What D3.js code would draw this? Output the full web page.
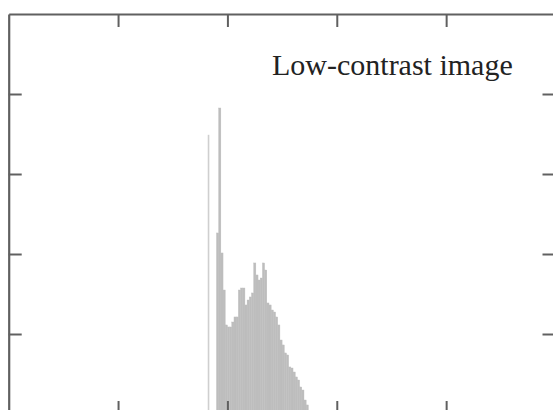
<!DOCTYPE html>
<html>
<head>
<meta charset="utf-8">
<script src="https://cdn.jsdelivr.net/npm/d3@7"></script>
<style>
  body { margin: 0; background: #fff; }
  svg { display: block; }
</style>
</head>
<body>
<script>
// grey level bins (0..255) and pixel counts
var levels = [91, 95, 96, 97, 98, 99, 100, 101, 102, 103, 104, 105, 106, 107, 108,
    109, 110, 111, 112, 113, 114, 115, 116, 117, 118, 119, 120, 121, 122, 123,
    124, 125, 126, 127, 128, 129, 130, 131, 132, 133, 134, 135, 136];
var counts = [3490, 2263, 3825, 2013, 1550, 1113, 1088, 1088, 1150, 1213, 1213, 1550,
    1575, 1575, 1363, 1425, 1463, 1513, 1888, 1738, 1675, 1700, 1888, 1800, 1388,
    1363, 1300, 1275, 1213, 1113, 925, 863, 763, 738, 588, 575, 525, 463, 425,
    338, 300, 175, 113];
var xTicks = [50, 100, 150, 200];
var yTicks = [1000, 2000, 3000, 4000];
var title = "Low-contrast image";

var width = 553, height = 410;
var svg = d3.select("body").append("svg")
    .attr("width", width)
    .attr("height", height);

// frame runs past the right and bottom edge of the window (cropped figure)
var x = d3.scaleLinear().domain([0, 250]).range([8.7, 555.5]);
var y = d3.scaleLinear().domain([0, 5000]).range([414, 14]);

var data = levels.map((l, i) => ({ level: l, count: counts[i] }));

// bars (thin stroke in the same grey closes the antialiasing seams)
svg.append("g")
    .selectAll("rect")
    .data(data)
    .enter().append("rect")
    .attr("x", d => x(d.level))
    .attr("width", d => d.level == 91 ? 1.6 : x(d.level + 1) - x(d.level))
    .attr("y", d => y(d.count))
    .attr("height", d => y(0) - y(d.count))
    .attr("fill", d => d.level == 91 ? "#cfcfcf" : "#bdbdbd")
    .attr("stroke", d => d.level == 91 ? "none" : "#bdbdbd")
    .attr("stroke-width", 0.4);

// axes: ticks pointing inwards on all four sides
var tick = 13;
var axisColor = "#606060";
var styleAxis = g => {
    g.select(".domain").attr("stroke", axisColor).attr("stroke-width", 2.2);
    g.selectAll(".tick line").attr("stroke", axisColor).attr("stroke-width", 2);
    g.selectAll(".tick text").remove();
};

svg.append("g")
    .attr("transform", `translate(0,${y(5000)})`)
    .call(d3.axisBottom(x).tickValues(xTicks).tickSizeInner(tick).tickSizeOuter(0))
    .call(styleAxis);
svg.append("g")
    .attr("transform", `translate(0,${y(0)})`)
    .call(d3.axisTop(x).tickValues(xTicks).tickSizeInner(tick).tickSizeOuter(0))
    .call(styleAxis);
svg.append("g")
    .attr("transform", `translate(${x(0)},0)`)
    .call(d3.axisRight(y).tickValues(yTicks).tickSizeInner(tick).tickSizeOuter(0))
    .call(styleAxis);
svg.append("g")
    .attr("transform", `translate(${x(250)},0)`)
    .call(d3.axisLeft(y).tickValues(yTicks).tickSizeInner(tick).tickSizeOuter(0))
    .call(styleAxis);

// label in the top right corner
svg.append("text")
    .attr("x", 272)
    .attr("y", 75)
    .attr("font-family", "Liberation Serif, Times New Roman, serif")
    .attr("font-size", "30px")
    .attr("fill", "#222")
    .text(title);
</script>
</body>
</html>
